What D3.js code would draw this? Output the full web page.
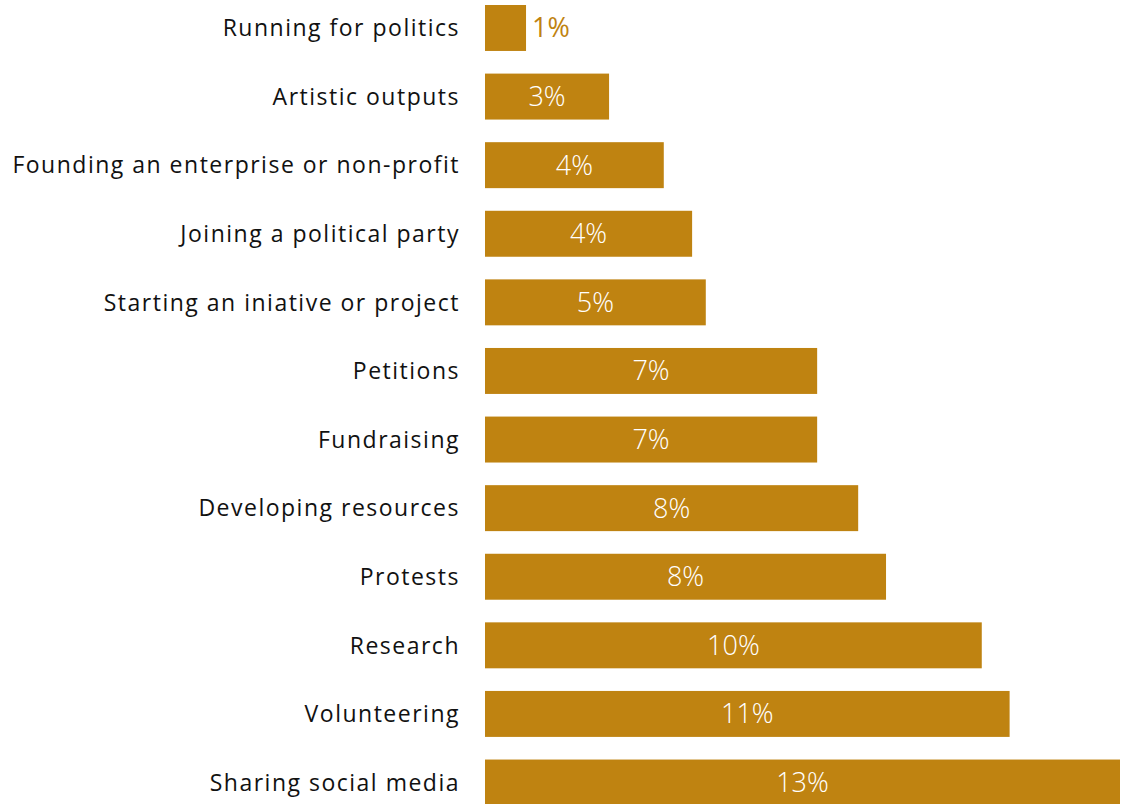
<!DOCTYPE html>
<html>
<head>
<meta charset="utf-8">
<script src="https://cdn.jsdelivr.net/npm/d3@7"></script>
<style>
  html, body { margin: 0; padding: 0; background: #fff; }
  svg { display: block; }
  text { font-family: "Open Sans", "Liberation Sans", Arial, sans-serif; }
</style>
</head>
<body>
<svg id="chart" width="1124" height="804"></svg>
<script>
// Share of respondents by type of engagement (percent)
const categories = [
  "Running for politics",
  "Artistic outputs",
  "Founding an enterprise or non-profit",
  "Joining a political party",
  "Starting an iniative or project",
  "Petitions",
  "Fundraising",
  "Developing resources",
  "Protests",
  "Research",
  "Volunteering",
  "Sharing social media"
];
const values = [0.84, 2.54, 3.66, 4.24, 4.52, 6.8, 6.8, 7.64, 8.21, 10.17, 10.74, 13.0];

const barColor = "#BF8311";

const svg = d3.select("#chart");

const x = d3.scaleLinear().domain([0, 13]).range([485, 1120]);
const y = d3.scaleBand()
  .domain(categories)
  .range([5, 805.5])
  .paddingInner(0.33)
  .paddingOuter(0);

const data = categories.map((c, i) => ({ cat: c, v: values[i] }));

// bars
svg.append("g")
  .selectAll("rect")
  .data(data)
  .join("rect")
  .attr("x", x(0))
  .attr("y", d => y(d.cat))
  .attr("width", d => x(d.v) - x(0))
  .attr("height", y.bandwidth())
  .attr("fill", barColor);

// category labels
const yAxis = d3.axisLeft(y).tickSize(0).tickPadding(25);
const ag = svg.append("g")
  .attr("transform", `translate(${x(0)},0)`)
  .call(yAxis);
ag.select(".domain").remove();
ag.selectAll("text")
  .attr("font-family", "Open Sans, Liberation Sans, Arial, sans-serif")
  .attr("font-size", 23)
  .attr("letter-spacing", "1.5px")
  .attr("dy", "0.36em")
  .attr("fill", "#111");

// value labels: inside the bar when it fits, otherwise just past its end
const fmt = v => Math.round(v) + "%";
const fits = d => x(d.v) - x(0) > 60;
svg.append("g")
  .selectAll("text")
  .data(data)
  .join("text")
  .attr("x", d => fits(d) ? (x(0) + x(d.v)) / 2 : x(d.v) + 6)
  .attr("y", d => y(d.cat) + y.bandwidth() / 2)
  .attr("dy", "0.35em")
  .attr("text-anchor", d => fits(d) ? "middle" : "start")
  .attr("font-size", 27)
  .attr("font-weight", d => fits(d) ? 300 : 400)
  .attr("fill", d => fits(d) ? "#fff" : barColor)
  .text(d => fmt(d.v));
</script>
</body>
</html>
